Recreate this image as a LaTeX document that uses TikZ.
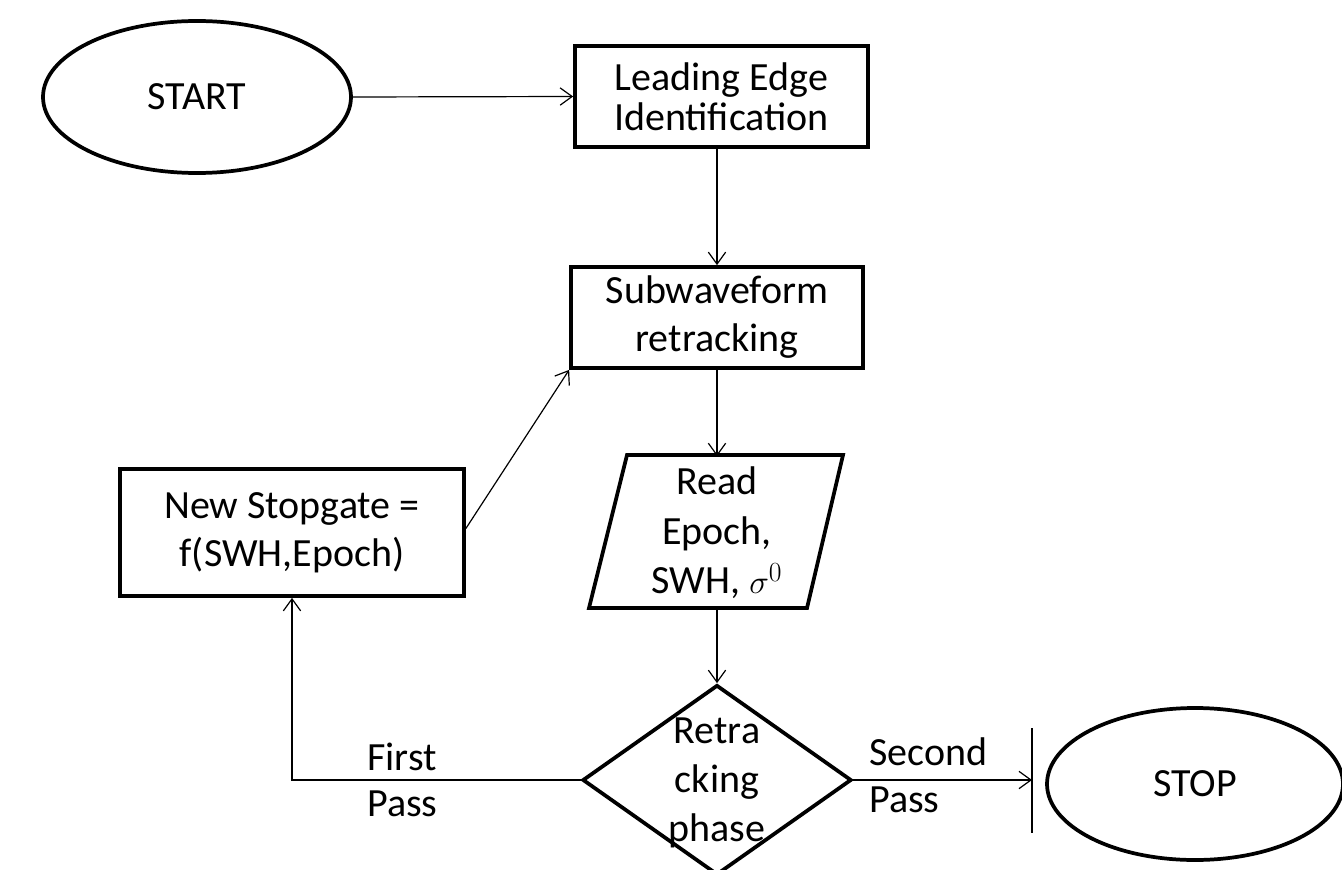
\documentclass[tikz,border=0pt]{standalone}
\usepackage{fontspec}
\setmainfont{Carlito}
\usetikzlibrary{shapes.geometric,arrows.meta,calc}

\tikzset{
  shapeline/.style={draw=black, line width=2.8pt},
  txt/.style={font=\fontsize{30}{36}\selectfont, align=center, inner sep=0pt},
  boxnode/.style={shapeline, txt, rectangle},
  termnode/.style={shapeline, txt, ellipse},
  flow/.style={draw=black, line width=0.9pt, -{Straight Barb[length=9pt,width=13pt]}},
  plain/.style={draw=black, line width=0.9pt},
  lbl/.style={font=\fontsize{30}{35}\selectfont, align=left, inner sep=0pt, anchor=west}
}

\begin{document}
\begin{tikzpicture}[x=0.75pt, y=-0.75pt]
\useasboundingbox (0,0) rectangle (1342,870);

% terminals
\node[termnode, minimum width=308*0.75pt, minimum height=152*0.75pt] (start) at (197,97) {START};
\node[termnode, minimum width=296*0.75pt, minimum height=152*0.75pt] (stop) at (1195,784) {STOP};

% process boxes
\node[boxnode, minimum width=293*0.75pt, minimum height=101*0.75pt,
      font=\fontsize{30}{30}\selectfont] (lead) at (721.5,96.5) {Leading Edge\\Identification};
\node[boxnode, minimum width=292*0.75pt, minimum height=101*0.75pt] (sub) at (717,317.5) {Subwaveform\\retracking};
\node[boxnode, minimum width=344*0.75pt, minimum height=127*0.75pt] (gate) at (292,532.5) {New Stopgate =\\f(SWH,Epoch)};

% input/output parallelogram
\draw[shapeline, line join=miter] (627,455) -- (843,455) -- (807,608) -- (589,608) -- cycle;
\node[txt, minimum height=153*0.75pt, font=\fontsize{30}{37}\selectfont] (read) at (717,533) {Read\\Epoch,\\SWH, $\sigma^{0}$};

% decision: empty diamond, its text laid over it (the text runs past the outline)
\node[shapeline, diamond, inner sep=0pt, minimum width=269*0.75pt, minimum height=190*0.75pt] (phase) at (717,780) {};
\node[txt, font=\fontsize{30}{37}\selectfont] (phasetxt) at (717,783) {Retra\\cking\\phase};

% end bar in front of STOP
\coordinate (bar) at (1032,780);
\coordinate (bartop) at (1032,728);
\coordinate (barbot) at (1032,833);
\coordinate (corner) at (292,780);

% connectors
\draw[flow] (start.east) -- (lead.west);
\draw[flow] (lead.south -| sub.north) -- (sub.north);
\draw[flow] (sub.south) -- (read.north);
\draw[flow] (read.south) -- (phase.north);
\draw[flow] (phase.west) -- (corner) -- (gate.south);
\draw[flow] ([yshift=3pt]gate.east) -- (sub.south west);
\draw[flow] (phase.east) -- (bar);
\draw[plain] (bartop) -- (barbot);

% branch labels
\node[lbl] (first) at (367,780) {First\\Pass};
\node[lbl] (second) at (869,775) {Second\\Pass};
\end{tikzpicture}
\end{document}
